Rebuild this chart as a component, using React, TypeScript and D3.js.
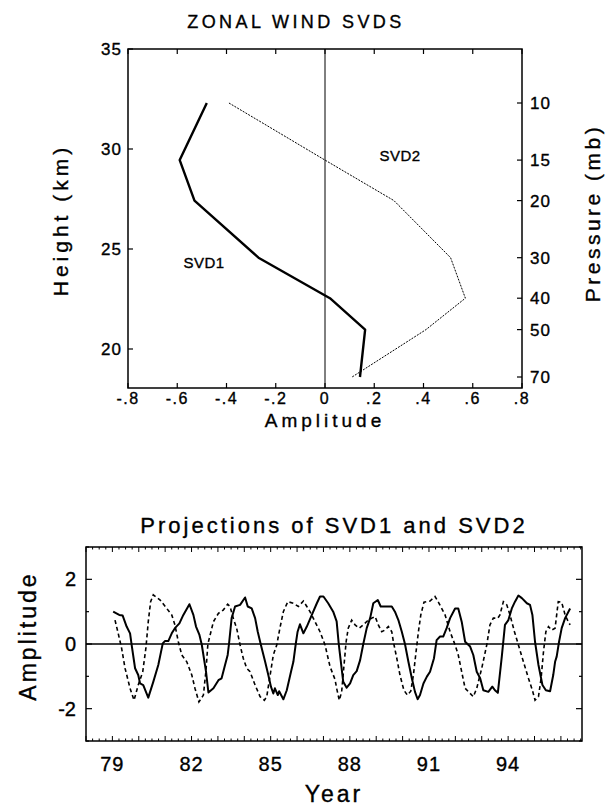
import React from 'react';
import * as d3 from 'd3';

// ---------- Top chart data ----------
const pressureLevels = [10, 15, 20, 30, 40, 50, 70];
const svd1Profile = [-0.48, -0.59, -0.53, -0.27, 0.02, 0.163, 0.142];
const svd2Profile = [-0.39, 0.0, 0.28, 0.51, 0.57, 0.41, 0.11];
const amplitudeTicks = [-0.8, -0.6, -0.4, -0.2, 0, 0.2, 0.4, 0.6, 0.8];
const amplitudeTickLabels = ['-.8', '-.6', '-.4', '-.2', '0', '.2', '.4', '.6', '.8'];
const heightTicks = [20, 25, 30, 35];
const pressureTicks = [10, 15, 20, 30, 40, 50, 70];

// ---------- Bottom chart data ----------
const proj1Years = [79.03, 79.26, 79.39, 79.54, 79.67, 79.73, 79.86, 79.98, 80.05, 80.17, 80.36, 80.55, 80.74, 80.91, 80.99, 81.12, 81.25, 81.37, 81.54, 81.69, 81.92, 82.07, 82.17, 82.30, 82.39, 82.55, 82.64, 82.83, 83.02, 83.14, 83.27, 83.37, 83.42, 83.52, 83.65, 83.84, 84.03, 84.13, 84.28, 84.41, 84.51, 84.63, 84.79, 84.91, 85.01, 85.10, 85.16, 85.27, 85.32, 85.48, 85.61, 85.77, 85.86, 85.95, 86.02, 86.11, 86.24, 86.37, 86.56, 86.75, 86.87, 87.00, 87.18, 87.37, 87.50, 87.58, 87.66, 87.75, 87.88, 88.01, 88.13, 88.26, 88.39, 88.51, 88.64, 88.77, 88.89, 89.06, 89.17, 89.33, 89.59, 89.71, 89.84, 89.97, 90.09, 90.22, 90.35, 90.47, 90.57, 90.66, 90.79, 90.92, 91.04, 91.19, 91.29, 91.42, 91.54, 91.67, 91.80, 91.99, 92.11, 92.24, 92.37, 92.56, 92.68, 92.81, 92.94, 93.06, 93.25, 93.40, 93.50, 93.61, 93.76, 93.88, 94.01, 94.14, 94.26, 94.39, 94.52, 94.71, 94.83, 94.92, 95.02, 95.15, 95.30, 95.43, 95.59, 95.71, 95.78, 95.84, 95.93, 96.03, 96.16, 96.35];
const proj1Values = [1.0, 0.9, 0.88, 0.54, 0.33, -0.03, -0.75, -0.96, -1.22, -1.27, -1.66, -1.17, -0.65, 0.02, 0.09, 0.09, 0.33, 0.49, 0.64, 0.9, 1.23, 0.9, 0.54, 0.28, -0.03, -0.86, -1.5, -1.37, -1.12, -1.06, -0.65, -0.34, 0.0, 0.8, 1.16, 1.21, 1.44, 1.16, 1.1, 0.8, 0.38, -0.03, -0.55, -0.96, -1.32, -1.53, -1.37, -1.58, -1.46, -1.71, -1.43, -0.86, -0.55, 0.0, 0.38, 0.61, 0.33, 0.54, 0.9, 1.26, 1.47, 1.47, 1.26, 1.0, 0.7, 0.0, -0.55, -1.17, -1.35, -1.22, -0.96, -0.84, -0.5, 0.0, 0.49, 0.8, 1.26, 1.36, 1.16, 1.16, 1.16, 1.0, 0.74, 0.38, 0.0, -0.55, -1.06, -1.48, -1.71, -1.58, -1.22, -1.01, -0.86, -0.44, 0.12, 0.23, 0.23, 0.49, 0.8, 1.1, 1.1, 0.69, 0.07, -0.08, -0.34, -0.86, -1.06, -1.43, -1.48, -1.32, -1.43, -1.51, -0.39, 0.59, 0.74, 1.1, 1.31, 1.5, 1.42, 1.26, 1.21, 0.9, 0.07, -0.65, -1.27, -1.43, -1.46, -0.96, -0.55, -0.39, 0.07, 0.49, 0.8, 1.1];

const proj2Years = [79.10, 79.22, 79.35, 79.48, 79.67, 79.82, 79.98, 80.15, 80.27, 80.36, 80.45, 80.55, 80.81, 81.06, 81.25, 81.37, 81.50, 81.63, 81.82, 82.01, 82.13, 82.28, 82.45, 82.55, 82.62, 82.83, 83.02, 83.20, 83.37, 83.46, 83.58, 83.71, 83.84, 83.96, 84.09, 84.22, 84.41, 84.60, 84.76, 84.85, 84.98, 85.10, 85.23, 85.35, 85.48, 85.65, 85.86, 86.05, 86.24, 86.37, 86.49, 86.68, 86.87, 87.06, 87.25, 87.44, 87.50, 87.60, 87.69, 87.78, 87.86, 87.94, 88.07, 88.20, 88.36, 88.51, 88.66, 88.83, 88.96, 89.08, 89.21, 89.33, 89.46, 89.59, 89.65, 89.78, 89.90, 90.05, 90.18, 90.31, 90.41, 90.51, 90.60, 90.69, 90.81, 91.04, 91.23, 91.36, 91.48, 91.61, 91.80, 91.99, 92.11, 92.24, 92.37, 92.68, 92.81, 93.00, 93.19, 93.31, 93.44, 93.61, 93.69, 93.82, 93.95, 94.07, 94.24, 94.39, 94.58, 94.77, 94.92, 95.02, 95.15, 95.25, 95.34, 95.43, 95.53, 95.65, 95.78, 95.90, 96.03, 96.16, 96.28, 96.35];
const proj2Values = [0.74, 0.33, -0.13, -0.75, -1.37, -1.74, -1.27, -0.86, -0.13, 0.69, 1.31, 1.52, 1.36, 1.1, 0.9, 0.59, 0.07, -0.34, -0.55, -0.96, -1.37, -1.79, -1.58, -0.8, 0.0, 0.69, 0.95, 1.05, 1.23, 1.16, 0.8, 0.49, -0.03, -0.44, -0.75, -0.86, -1.27, -1.63, -1.74, -1.63, -0.96, -0.34, -0.03, 0.49, 1.0, 1.31, 1.26, 1.16, 1.33, 1.16, 1.0, 0.69, 0.38, -0.03, -0.7, -1.1, -1.37, -1.74, -1.48, -0.65, 0.07, 0.49, 0.74, 0.59, 0.49, 0.59, 0.71, 0.8, 0.85, 0.59, 0.38, 0.43, 0.54, 0.38, 0.07, -0.44, -0.96, -1.43, -1.58, -1.46, -0.96, -0.24, 0.38, 0.9, 1.29, 1.33, 1.47, 1.29, 1.1, 0.9, 0.38, -0.03, -0.34, -0.86, -1.37, -1.63, -1.37, -0.75, -0.03, 0.59, 0.8, 0.8, 0.9, 1.31, 1.21, 0.9, 0.38, -0.03, -0.55, -1.06, -1.43, -1.74, -1.63, -1.06, -0.24, 0.38, 0.54, 0.43, 0.49, 1.31, 1.29, 0.9, 0.69, 0.59];

const yearTicks = [79, 82, 85, 88, 91, 94];
const projTicks = [-2, 0, 2];

const FONT = '"Liberation Sans", Arial, sans-serif';
const TXT = { stroke: '#000', strokeWidth: 0.35 };

export default function App() {
  // ---------- Top chart scales ----------
  const xA = d3.scaleLinear().domain([-0.8, 0.8]).range([128, 522]);
  const yH = d3.scaleLinear().domain([18.05, 35]).range([388, 49]);
  const yP = d3.scaleLog().domain([10, 70]).range([yH(32.3), yH(18.6)]);

  const profileLine = d3
    .line<number>()
    .x((d) => xA(d))
    .y((_, i) => yP(pressureLevels[i]));

  // ---------- Bottom chart scales ----------
  const xY = d3.scaleLinear().domain([78, 96.8]).range([86, 582]);
  const yV = d3.scaleLinear().domain([-3, 3]).range([741, 547]);
  const l1 = d3
    .line<number>()
    .x((d) => xY(d))
    .y((_, i) => yV(proj1Values[i]));
  const l2 = d3
    .line<number>()
    .x((d) => xY(d))
    .y((_, i) => yV(proj2Values[i]));

  const minorYears = d3.range(78, 96.8 + 1e-6, 0.25);
  const minorV = d3.range(-3, 3.001, 1);

  const [xl, xr] = xY.range();
  const [yb, yt] = yV.range();

  return (
    <svg
      width={606}
      height={806}
      style={{ position: 'absolute', left: 0, top: 0, background: '#fff' }}
      fontFamily={FONT}
    >
      {/* ================= TOP CHART ================= */}
      <text x={296} y={28} textAnchor="middle" fontSize={18} letterSpacing={3.4} {...TXT}>
        ZONAL WIND SVDS
      </text>
      <rect x={128} y={49} width={394} height={339} fill="none" stroke="#000" strokeWidth={1.5} />
      {/* zero line */}
      <line x1={xA(0)} x2={xA(0)} y1={49} y2={388} stroke="#000" strokeWidth={1} />
      {/* amplitude ticks */}
      {amplitudeTicks.map((t, i) => (
        <g key={'at' + i}>
          <line x1={xA(t)} x2={xA(t)} y1={388} y2={383} stroke="#000" strokeWidth={1.2} />
          <line x1={xA(t)} x2={xA(t)} y1={49} y2={54} stroke="#000" strokeWidth={1.2} />
          <text x={xA(t)} y={404} textAnchor="middle" fontSize={16} letterSpacing={1.5} {...TXT}>
            {amplitudeTickLabels[i]}
          </text>
        </g>
      ))}
      {heightTicks.map((t) => (
        <g key={'ht' + t}>
          <line x1={128} x2={133} y1={yH(t)} y2={yH(t)} stroke="#000" strokeWidth={1.2} />
          <text x={122} y={yH(t) + 6} textAnchor="end" fontSize={17} letterSpacing={1} {...TXT}>
            {t}
          </text>
        </g>
      ))}
      {pressureTicks.map((t) => (
        <g key={'pt' + t}>
          <line x1={517} x2={522} y1={yP(t)} y2={yP(t)} stroke="#000" strokeWidth={1.2} />
          <text x={530} y={yP(t) + 6} textAnchor="start" fontSize={17} letterSpacing={1} {...TXT}>
            {t}
          </text>
        </g>
      ))}
      <text
        transform="translate(68,220) rotate(-90)"
        textAnchor="middle"
        fontSize={21}
        letterSpacing={4}
        {...TXT}
      >
        Height (km)
      </text>
      <text
        transform="translate(600,213) rotate(-90)"
        textAnchor="middle"
        fontSize={21}
        letterSpacing={3.5}
        {...TXT}
      >
        Pressure (mb)
      </text>
      <text x={325} y={427} textAnchor="middle" fontSize={19} letterSpacing={4} {...TXT}>
        Amplitude
      </text>
      <path d={profileLine(svd1Profile) || ''} fill="none" stroke="#000" strokeWidth={2.4} strokeLinejoin="round" />
      <path
        d={profileLine(svd2Profile) || ''}
        fill="none"
        stroke="#000"
        strokeWidth={1}
        strokeDasharray="2,1.2"
      />
      <text x={204} y={268} textAnchor="middle" fontSize={15} letterSpacing={0.5} {...TXT}>
        SVD1
      </text>
      <text x={400} y={161} textAnchor="middle" fontSize={15} letterSpacing={0.5} {...TXT}>
        SVD2
      </text>

      {/* ================= BOTTOM CHART ================= */}
      <text x={334} y={533} textAnchor="middle" fontSize={22} letterSpacing={3} {...TXT}>
        Projections of SVD1 and SVD2
      </text>
      <rect x={xl} y={yt} width={xr - xl} height={yb - yt} fill="none" stroke="#000" strokeWidth={1.5} />
      <line x1={xl} x2={xr} y1={yV(0)} y2={yV(0)} stroke="#000" strokeWidth={1.5} />
      {minorYears.map((t, i) => {
        const major = Math.abs(t - Math.round(t)) < 1e-6;
        const len = major ? 5 : 2.5;
        return (
          <g key={'my' + i}>
            <line x1={xY(t)} x2={xY(t)} y1={yb} y2={yb - len} stroke="#000" strokeWidth={1} />
            <line x1={xY(t)} x2={xY(t)} y1={yt} y2={yt + len} stroke="#000" strokeWidth={1} />
          </g>
        );
      })}
      {minorV.map((t) => {
        const major = t % 2 === 0;
        const len = major ? 6 : 3;
        return (
          <g key={'mv' + t}>
            <line x1={xl} x2={xl + len} y1={yV(t)} y2={yV(t)} stroke="#000" strokeWidth={1.2} />
            <line x1={xr} x2={xr - len} y1={yV(t)} y2={yV(t)} stroke="#000" strokeWidth={1.2} />
          </g>
        );
      })}
      {projTicks.map((t) => (
        <text key={'pl' + t} x={76} y={yV(t) + 7} textAnchor="end" fontSize={20} {...TXT}>
          {t === -2 ? '-2' : String(t)}
        </text>
      ))}
      {yearTicks.map((t) => (
        <text key={'yl' + t} x={xY(t)} y={771} textAnchor="middle" fontSize={20} letterSpacing={1} {...TXT}>
          {t}
        </text>
      ))}
      <text x={334} y={802} textAnchor="middle" fontSize={23} letterSpacing={3} {...TXT}>
        Year
      </text>
      <text
        transform="translate(36,636) rotate(-90)"
        textAnchor="middle"
        fontSize={23}
        letterSpacing={3}
        {...TXT}
      >
        Amplitude
      </text>
      <path d={l2(proj2Years) || ''} fill="none" stroke="#000" strokeWidth={1.6} strokeDasharray="4,3" />
      <path d={l1(proj1Years) || ''} fill="none" stroke="#000" strokeWidth={2} strokeLinejoin="round" />
    </svg>
  );
}
